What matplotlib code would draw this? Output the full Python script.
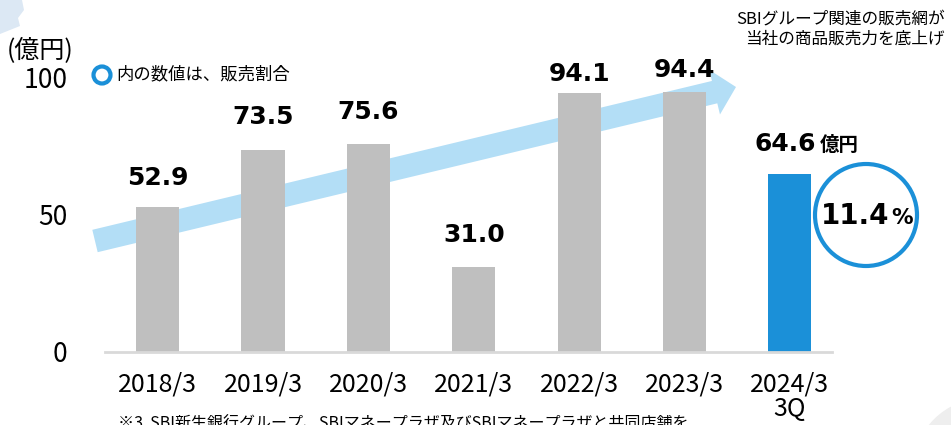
import matplotlib
matplotlib.use("Agg")
import matplotlib.pyplot as plt
from matplotlib.patches import Circle, FancyArrow, Polygon

plt.rcParams['font.family'] = ['Noto Sans CJK JP', 'DejaVu Sans']

categories = ["2018/3", "2019/3", "2020/3", "2021/3", "2022/3", "2023/3", "2024/3\n3Q"]
values = [52.9, 73.5, 75.6, 31.0, 94.1, 94.4, 64.6]
value_labels = ["52.9", "73.5", "75.6", "31.0", "94.1", "94.4", "64.6"]
yticks = [0, 50, 100]
ytick_labels = ["0", "50", "100"]
share_label = "11.4"
unit_label = "(億円)"
legend_text = "内の数値は、販売割合"
note_text = "SBIグループ関連の販売網が\n当社の商品販売力を底上げ"
footnote = "※3  SBI新生銀行グループ、SBIマネープラザ及びSBIマネープラザと共同店舗を"

GRAY = "#BFBFBF"
BLUE = "#1B90D8"
ARROW = "#B3DEF6"

W, H = 951, 425
fig = plt.figure(figsize=(W / 100, H / 100), dpi=100)

# overlay (pixel coordinates) for decorations, behind main axes
ov = fig.add_axes([0, 0, 1, 1], zorder=0)
ov.set_xlim(0, W)
ov.set_ylim(H, 0)
ov.axis("off")

# background decorations
ov.add_patch(Polygon([(0, 0), (22, 0), (24, 10), (18, 18), (20, 26), (10, 30), (0, 34)],
                     closed=True, facecolor="#DCE8F4", edgecolor="none"))
ov.add_patch(Circle((985, 470), 72, facecolor="#EEEEEE", edgecolor="none"))

# trend arrow
x0, y0, x1, y1 = 95, 241, 736, 87
ov.add_patch(FancyArrow(x0, y0, x1 - x0, y1 - y0, width=23, head_width=46,
                        head_length=22, length_includes_head=True,
                        facecolor=ARROW, edgecolor="none"))

# main axes
ax = fig.add_axes([105 / W, 73 / H, 727 / W, 275 / H], zorder=1)
ax.patch.set_alpha(0)
x = list(range(len(categories)))
colors = [GRAY] * (len(values) - 1) + [BLUE]
ax.bar(x, values, width=0.41, color=colors, zorder=2)
ax.set_xlim(-0.5, 6.4)
ax.set_ylim(0, 100)
for s in ["top", "right", "left"]:
    ax.spines[s].set_visible(False)
ax.spines["bottom"].set_color("#D9D9D9")
ax.spines["bottom"].set_linewidth(2)
ax.set_xticks(x)
ax.set_xticklabels(categories, fontsize=18, linespacing=0.95)
ax.tick_params(axis="x", length=0, pad=14)
ax.set_yticks(yticks)
ax.set_yticklabels(ytick_labels, fontsize=19)
ax.tick_params(axis="y", length=0, pad=27)

offsets = [29, 33, 32, 32, 19, 22, 30]
for i, (v, lab) in enumerate(zip(values, value_labels)):
    dx = -5 if i == len(values) - 1 else 0
    ax.annotate(lab, (i, v), xytext=(dx, offsets[i]), textcoords="offset pixels",
                ha="center", va="center", fontsize=18, fontweight="bold",
                family="DejaVu Sans", annotation_clip=False)
ax.annotate("億円", (len(values) - 1, values[-1]), xytext=(49, 29),
            textcoords="offset pixels", ha="center", va="center",
            fontsize=14, fontweight="bold", annotation_clip=False)

# texts in pixel space
ov.text(7, 51, unit_label, fontsize=18, ha="left", va="center")
ov.add_patch(Circle((102, 75), 8.5, facecolor="none", edgecolor=BLUE, linewidth=3))
ov.text(116, 74, legend_text, fontsize=12.5, ha="left", va="center")
ov.text(945, 29, note_text, fontsize=12, ha="right", va="center", linespacing=1.2)

# share circle
ov.add_patch(Circle((866, 215), 51, facecolor="white", edgecolor=BLUE, linewidth=3))
ov.text(855, 216, share_label, fontsize=20, fontweight="bold", family="DejaVu Sans",
        ha="center", va="center")
ov.text(902, 218, "%", fontsize=15.5, fontweight="bold", family="DejaVu Sans",
        ha="center", va="center")

ov.text(118, 416, footnote, fontsize=11.5, ha="left", va="top")

fig.savefig("out.png", dpi=100)
